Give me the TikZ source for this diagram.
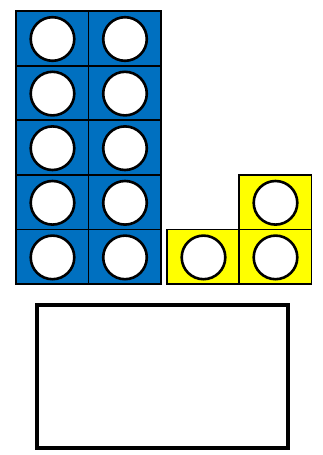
\documentclass[tikz,border=0pt]{standalone}
\usepackage{tikz}
\definecolor{bleu}{RGB}{0,112,192}
\definecolor{jaune}{RGB}{255,255,0}
\tikzset{epais/.style={line width=1.8pt},
	trou/.style={line width=2.6pt,fill=white}}
\newcommand{\cube}[3]{\draw[epais,fill=#3] (#1,#2) rectangle ++(72.5,54.6);
	\draw[trou] (#1+36.5,#2+28) circle (21.8pt)}
\newcommand{\cadre}[2]{\draw[line width=3.6pt] (#1) rectangle (#2)}

\begin{document}
\begin{tikzpicture}[x=1pt,y=-1pt]
	\useasboundingbox (0,0) rectangle (323,455);
%The blue tower
	\cube{16}{11}{bleu};
	\cube{88.5}{11}{bleu};
	\cube{16}{65.6}{bleu};
	\cube{88.5}{65.6}{bleu};
	\cube{16}{120.2}{bleu};
	\cube{88.5}{120.2}{bleu};
	\cube{16}{174.8}{bleu};
	\cube{88.5}{174.8}{bleu};
	\cube{16}{229.4}{bleu};
	\cube{88.5}{229.4}{bleu};
%The yellow cubes
	\cube{167}{229.4}{jaune};
	\cube{239}{229.4}{jaune};
	\cube{239}{174.8}{jaune};
%Empty frame
	\cadre{37,305}{288,448};
\end{tikzpicture}
\end{document}
